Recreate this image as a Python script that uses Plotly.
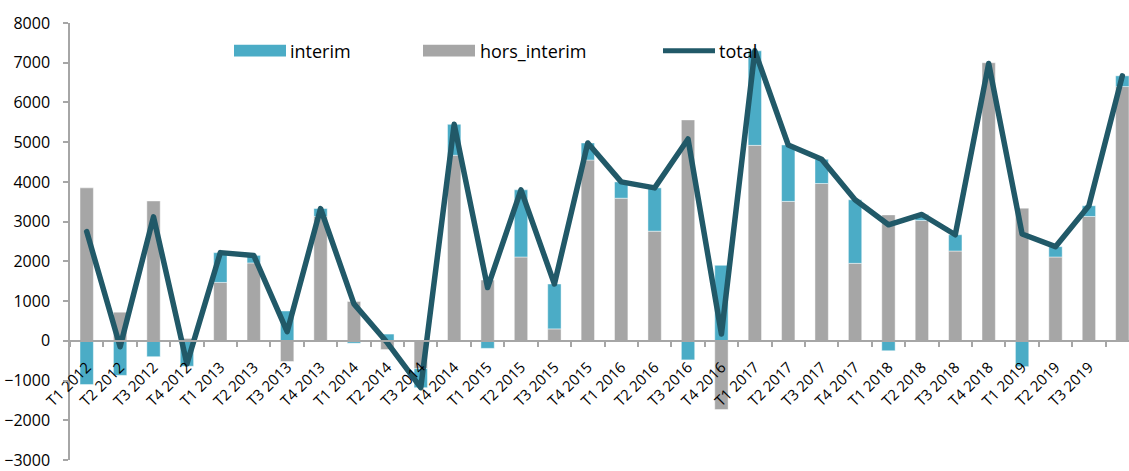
import plotly.graph_objects as go

categories = [f"T{q} {y}" for y in range(2012, 2020) for q in range(1, 5)]

interim = [-1100, -870, -400, -640, 750, 190, 750, 200,
           -60, 170, -480, 780, -190, 1690, 1130, 430,
           410, 1090, -480, 1900, 2380, 1420, 610, 1600,
           -250, 150, 410, -20, -650, 260, 270, 270]

hors_interim = [3850, 720, 3520, 60, 1470, 1960, -520, 3130,
                990, -220, -700, 4670, 1530, 2110, 300, 4550,
                3590, 2760, 5560, -1730, 4920, 3510, 3960, 1950,
                3170, 3030, 2260, 7000, 3340, 2110, 3130, 6400]

total = [2750, -150, 3120, -580, 2220, 2150, 230, 3330,
         930, -50, -1180, 5450, 1340, 3800, 1430, 4980,
         4000, 3850, 5080, 170, 7300, 4930, 4570, 3550,
         2920, 3180, 2670, 6980, 2690, 2370, 3400, 6670]

shown_labels = categories[:31]

C_INT = "#4BACC6"
C_HORS = "#A6A6A6"
C_TOT = "#215968"
AX = "#A6A6A6"
FONT = "Open Sans"

fig = go.Figure()
fig.add_trace(go.Bar(x=categories, y=hors_interim, name="hors_interim", marker_color=C_HORS,
                     marker_line=dict(width=1, color="rgba(255,255,255,0.45)"), width=0.4))
fig.add_trace(go.Bar(x=categories, y=interim, name="interim", marker_color=C_INT,
                     marker_line=dict(width=1, color="rgba(255,255,255,0.45)"), width=0.4))
fig.add_trace(go.Scatter(x=categories, y=total, name="total", mode="lines",
                         line=dict(color=C_TOT, width=5.5)))

W, H = 1129, 471
L, T, B = 70, 23, 6
PW, PH = W - L, H - T - B


def fx(px):
    return (px - L) / PW


def fy(py):
    return (T + PH - py) / PH


shapes = [
    dict(type="rect", xref="paper", yref="paper", x0=fx(234), x1=fx(286), y0=fy(57), y1=fy(45),
         fillcolor=C_INT, line=dict(width=0)),
    dict(type="rect", xref="paper", yref="paper", x0=fx(423), x1=fx(475), y0=fy(57), y1=fy(45),
         fillcolor=C_HORS, line=dict(width=0)),
    dict(type="line", xref="paper", yref="paper", x0=fx(663), x1=fx(715), y0=fy(51), y1=fy(51),
         line=dict(color=C_TOT, width=5)),
]
annotations = [
    dict(text=t, xref="paper", yref="paper", x=fx(xp), y=fy(51), xanchor="left", yanchor="middle",
         showarrow=False, font=dict(family=FONT, size=18, color="#000000"), borderpad=0)
    for t, xp in [("interim", 289), ("hors_interim", 479), ("total", 718)]
]

fig.update_layout(
    width=W, height=H,
    margin=dict(l=L, r=0, t=T, b=B, pad=0),
    barmode="relative",
    showlegend=False,
    plot_bgcolor="white", paper_bgcolor="white",
    font=dict(family=FONT, color="#000000"),
    shapes=shapes, annotations=annotations,
    xaxis=dict(
        type="category", range=[-0.5, 31.2],
        anchor="free", position=3 / 11,
        showline=True, linecolor=AX, linewidth=1.5,
        ticks="outside", ticklen=5, tickcolor=AX, tickwidth=1.5,
        tickson="boundaries",
        tickvals=shown_labels, ticktext=shown_labels,
        tickangle=-45, tickfont=dict(family=FONT, size=15, color="#000000"),
        ticklabelstandoff=11,
        showgrid=False, zeroline=False,
    ),
    yaxis=dict(
        range=[-3000, 8000], dtick=1000, tick0=0,
        showline=True, linecolor=AX, linewidth=1.5,
        ticks="outside", ticklen=5, tickcolor=AX, tickwidth=1.5,
        tickfont=dict(family=FONT, size=16, color="#000000"),
        ticklabelstandoff=10, ticklabeloverflow="allow",
        showgrid=False, zeroline=False,
    ),
)

post = """
document.body.style.margin='0';
document.body.style.padding='0';
document.querySelectorAll('.scatterlayer path.js-line').forEach(function(p){
  p.style.strokeLinejoin='round'; p.style.strokeLinecap='round';
});
"""
fig.write_html("out.html", post_script=post, config={"displayModeBar": False})
